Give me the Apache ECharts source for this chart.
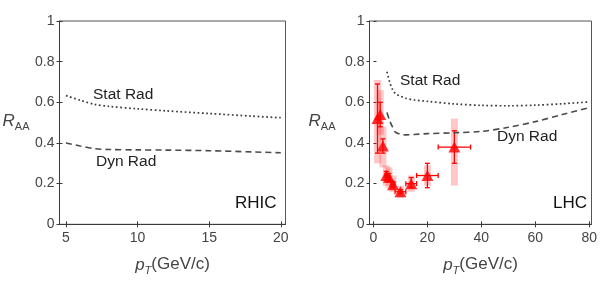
<!DOCTYPE html>
<html><head><meta charset="utf-8">
<script src="https://cdn.jsdelivr.net/npm/echarts@6/dist/echarts.min.js"></script>
<style>html,body{margin:0;padding:0;background:#fff}#c{width:600px;height:284px}</style>
</head><body><div id="c"></div>
<script>
// ---- tick labels ----
const rhicXTicks = [5, 10, 15, 20];
const lhcXTicks = [0, 20, 40, 60, 80];
const yTicks = [0, 0.2, 0.4, 0.6, 0.8, 1];

// ---- RHIC curves ----
const rhicPt = [5, 6, 7, 8, 10, 12, 15, 18, 20];
const rhicStatRad = [0.633, 0.61, 0.59, 0.58, 0.568, 0.558, 0.545, 0.532, 0.524];
const rhicDynRad = [0.40, 0.385, 0.372, 0.368, 0.366, 0.365, 0.362, 0.356, 0.352];

// ---- LHC curves ----
const lhcCurvePt = [5, 6, 7, 8, 10, 12, 15, 20, 30, 40, 50, 60, 70, 80];
const lhcStatRad = [0.75, 0.70, 0.665, 0.645, 0.63, 0.62, 0.612, 0.605, 0.592, 0.585, 0.583, 0.586, 0.593, 0.602];
const lhcDynRad = [0.55, 0.51, 0.48, 0.455, 0.443, 0.44, 0.442, 0.446, 0.45, 0.457, 0.477, 0.505, 0.54, 0.574];

// ---- LHC data points ----
const lhcPt     = [1.5, 2.5, 3.5, 4.75, 5.75, 7.25, 10, 14, 20, 30];
const lhcRaa    = [0.52, 0.54, 0.385, 0.24, 0.23, 0.195, 0.16, 0.20, 0.24, 0.38];
const lhcStatLo = [0.35, 0.48, 0.35, 0.22, 0.21, 0.18, 0.15, 0.18, 0.18, 0.30];
const lhcStatHi = [0.69, 0.60, 0.42, 0.26, 0.25, 0.21, 0.17, 0.23, 0.30, 0.46];
const lhcSysLo  = [0.30, 0.44, 0.28, 0.19, 0.18, 0.16, 0.13, 0.16, 0.19, 0.19];
const lhcSysHi  = [0.71, 0.66, 0.48, 0.29, 0.28, 0.24, 0.19, 0.24, 0.29, 0.52];
const lhcPtLo   = [1.5, 2.5, 3.5, 4.25, 5.25, 6.5, 8, 12, 16, 24];
const lhcPtHi   = [1.5, 2.5, 3.5, 5.25, 6.25, 8, 12, 16, 24, 36];

const axisCol = '#3a3a3a';
const textCol = '#444';
const fontFam = 'Liberation Sans, Arial, sans-serif';

function pair(xs, ys) { return xs.map((x, i) => [x, ys[i]]); }

const xName = {
  name: '{i|p}{s|T}{n|(GeV/c)}',
  nameLocation: 'middle',
  nameGap: 32,
  nameTextStyle: {
    rich: {
      i: { fontStyle: 'italic', fontSize: 17, color: textCol, fontFamily: fontFam, verticalAlign: 'top', lineHeight: 20 },
      s: { fontStyle: 'italic', fontSize: 11, color: textCol, fontFamily: fontFam, verticalAlign: 'bottom', lineHeight: 12 },
      n: { fontSize: 17, color: textCol, fontFamily: fontFam, verticalAlign: 'top', lineHeight: 20 }
    }
  }
};
const yName = {
  name: '{i|R}{s|AA}',
  nameLocation: 'middle',
  nameRotate: 0,
  nameTextStyle: {
    rich: {
      i: { fontStyle: 'italic', fontSize: 17, color: textCol, fontFamily: fontFam, lineHeight: 20, verticalAlign: 'top' },
      s: { fontSize: 11, color: textCol, fontFamily: fontFam, lineHeight: 12, verticalAlign: 'bottom' }
    }
  }
};

function mainX(grid, min, max, ticks) {
  return Object.assign({
    type: 'value', gridIndex: grid, min: min, max: max, position: 'bottom',
    axisLine: { show: true, onZero: false, lineStyle: { color: axisCol, width: 1 } },
    axisTick: { show: true, inside: false, length: 3, customValues: ticks, lineStyle: { color: axisCol } },
    axisLabel: { customValues: ticks, fontSize: 14, color: textCol, fontFamily: fontFam, margin: 7 },
    splitLine: { show: false }
  }, xName);
}
function overX(grid, min, max, ticks) {
  return {
    type: 'value', gridIndex: grid, min: min, max: max, position: 'bottom',
    axisLine: { show: false },
    axisTick: { show: true, inside: true, length: 3, customValues: ticks, lineStyle: { color: axisCol } },
    axisLabel: { show: false }, splitLine: { show: false }
  };
}
function mainY(grid, gap) {
  return Object.assign({}, yName, {
    type: 'value', gridIndex: grid, min: 0, max: 1, position: 'left', nameGap: gap,
    axisLine: { show: true, onZero: false, lineStyle: { color: axisCol, width: 1 } },
    axisTick: { show: true, inside: false, length: 3, customValues: yTicks, lineStyle: { color: axisCol } },
    axisLabel: { customValues: yTicks, fontSize: 14, color: textCol, fontFamily: fontFam, margin: 5 },
    splitLine: { show: false }
  });
}
function overY(grid) {
  return {
    type: 'value', gridIndex: grid, min: 0, max: 1, position: 'left',
    axisLine: { show: false },
    axisTick: { show: true, inside: true, length: 3, customValues: yTicks, lineStyle: { color: axisCol } },
    axisLabel: { show: false }, splitLine: { show: false }
  };
}

const pointRows = lhcPt.map((x, i) => [x, lhcRaa[i], lhcStatLo[i], lhcStatHi[i], lhcPtLo[i], lhcPtHi[i], lhcSysLo[i], lhcSysHi[i]]);
const red = '#ff0000';

const option = {
  animation: false,
  backgroundColor: '#fff',
  grid: [
    { left: 59.5, width: 226, top: 21, height: 203.3, show: true, borderColor: '#555', borderWidth: 1, backgroundColor: 'transparent' },
    { left: 369.5, width: 224, top: 21, height: 203.3, show: true, borderColor: '#555', borderWidth: 1, backgroundColor: 'transparent' }
  ],
  xAxis: [
    mainX(0, 4.55, 20.33, rhicXTicks),
    mainX(1, -1.47, 80.85, lhcXTicks),
    overX(0, 4.55, 20.33, rhicXTicks),
    overX(1, -1.47, 80.85, lhcXTicks)
  ],
  yAxis: [mainY(0, 30), mainY(1, 34), overY(0), overY(1)],
  series: [
    { type: 'line', xAxisIndex: 0, yAxisIndex: 0, data: pair(rhicPt, rhicStatRad), smooth: 0.3, showSymbol: false,
      lineStyle: { color: '#3a3a3a', width: 1.7, type: [1.7, 2.6] } },
    { type: 'line', xAxisIndex: 0, yAxisIndex: 0, data: pair(rhicPt, rhicDynRad), smooth: 0.3, showSymbol: false,
      lineStyle: { color: '#4a4a4a', width: 1.6, type: [6, 4] } },
    { type: 'line', xAxisIndex: 1, yAxisIndex: 1, data: pair(lhcCurvePt, lhcStatRad), smooth: 0.3, showSymbol: false,
      lineStyle: { color: '#3a3a3a', width: 1.7, type: [1.7, 2.6] } },
    { type: 'line', xAxisIndex: 1, yAxisIndex: 1, data: pair(lhcCurvePt, lhcDynRad), smooth: 0.3, showSymbol: false,
      lineStyle: { color: '#4a4a4a', width: 1.6, type: [6, 4] } },
    // systematic bands
    { type: 'custom', xAxisIndex: 1, yAxisIndex: 1, data: pointRows, z: 2,
      renderItem: function (params, api) {
        const top = api.coord([api.value(0), api.value(7)]);
        const bot = api.coord([api.value(0), api.value(6)]);
        return { type: 'rect', shape: { x: top[0] - 3.5, y: top[1], width: 7, height: bot[1] - top[1] },
          style: { fill: 'rgba(255,0,0,0.22)' } };
      } },
    // error bars
    { type: 'custom', xAxisIndex: 1, yAxisIndex: 1, data: pointRows, z: 3,
      renderItem: function (params, api) {
        const x = api.value(0), y = api.value(1);
        const hi = api.coord([x, api.value(3)]);
        const lo = api.coord([x, api.value(2)]);
        const l = api.coord([api.value(4), y]);
        const r = api.coord([api.value(5), y]);
        const st = { stroke: red, lineWidth: 1.3 };
        const ch = [
          { type: 'line', shape: { x1: hi[0], y1: hi[1], x2: lo[0], y2: lo[1] }, style: st },
          { type: 'line', shape: { x1: hi[0] - 2.5, y1: hi[1], x2: hi[0] + 2.5, y2: hi[1] }, style: st },
          { type: 'line', shape: { x1: lo[0] - 2.5, y1: lo[1], x2: lo[0] + 2.5, y2: lo[1] }, style: st }
        ];
        if (r[0] - l[0] > 1) {
          ch.push({ type: 'line', shape: { x1: l[0], y1: l[1], x2: r[0], y2: r[1] }, style: st });
          ch.push({ type: 'line', shape: { x1: l[0], y1: l[1] - 2.5, x2: l[0], y2: l[1] + 2.5 }, style: st });
          ch.push({ type: 'line', shape: { x1: r[0], y1: r[1] - 2.5, x2: r[0], y2: r[1] + 2.5 }, style: st });
        }
        return { type: 'group', children: ch };
      } },
    { type: 'scatter', xAxisIndex: 1, yAxisIndex: 1, data: pair(lhcPt, lhcRaa), z: 4,
      symbol: 'triangle', symbolSize: [12, 11], itemStyle: { color: red } }
  ],
  graphic: [
    { type: 'text', left: 93, top: 87, style: { text: 'Stat Rad', font: '15.5px ' + fontFam, fill: '#222' } },
    { type: 'text', left: 96, top: 154, style: { text: 'Dyn Rad', font: '15.5px ' + fontFam, fill: '#222' } },
    { type: 'text', left: 235, top: 195, style: { text: 'RHIC', font: '17px ' + fontFam, fill: '#111' } },
    { type: 'text', left: 400, top: 73, style: { text: 'Stat Rad', font: '15.5px ' + fontFam, fill: '#222' } },
    { type: 'text', left: 497, top: 129, style: { text: 'Dyn Rad', font: '15.5px ' + fontFam, fill: '#222' } },
    { type: 'text', left: 553, top: 195, style: { text: 'LHC', font: '17px ' + fontFam, fill: '#111' } }
  ]
};
const chart = echarts.init(document.getElementById('c'), null, { renderer: 'canvas' });
chart.setOption(option);
</script></body></html>
